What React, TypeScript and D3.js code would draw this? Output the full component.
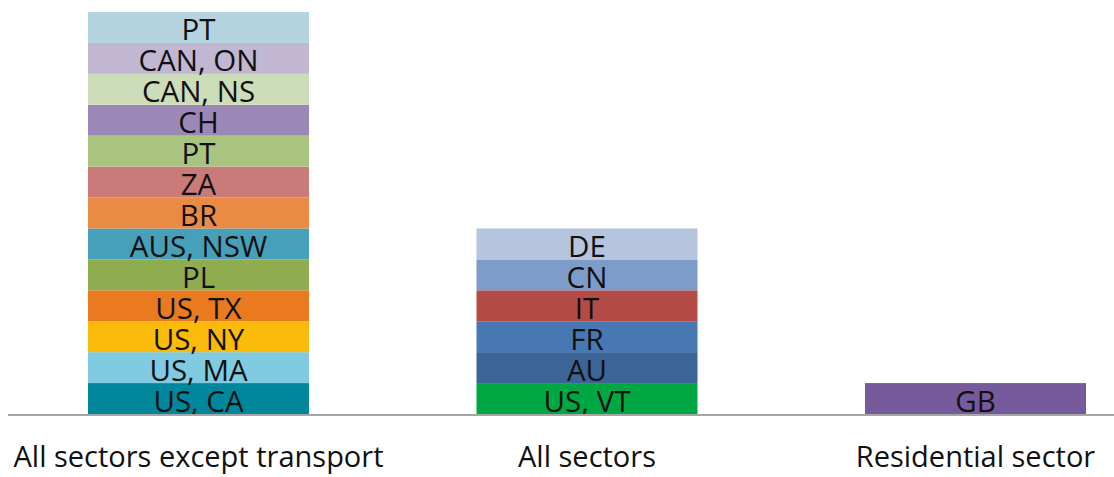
import React from "react";
import * as d3 from "d3";

const categories = ["All sectors except transport", "All sectors", "Residential sector"];

const col1Labels = ["US, CA", "US, MA", "US, NY", "US, TX", "PL", "AUS, NSW", "BR", "ZA", "PT", "CH", "CAN, NS", "CAN, ON", "PT"];
const col1Colors = ["#00879b", "#80cbe1", "#fbbb0a", "#e97a1f", "#8fad4e", "#46a0ba", "#ea8b43", "#ca7b79", "#a9c47f", "#9b88b6", "#cddcb9", "#c2b7d3", "#b4d4df"];

const col2Labels = ["US, VT", "AU", "FR", "IT", "CN", "DE"];
const col2Colors = ["#00a844", "#3b6497", "#4878b3", "#b44b47", "#7e9cc9", "#b6c5de"];

const col3Labels = ["GB"];
const col3Colors = ["#765a9b"];

const columns = [
  { labels: col1Labels, colors: col1Colors },
  { labels: col2Labels, colors: col2Colors },
  { labels: col3Labels, colors: col3Colors },
];

const W = 1114;
const H = 477;

export default function App() {
  const x = d3.scaleBand<string>().domain(categories).range([88, 1086]).paddingInner(0.4311).paddingOuter(0);
  const y = d3.scaleLinear().domain([0, 13]).range([414, 12]);
  const font = "'Open Sans', 'Noto Sans', sans-serif";
  return (
    <svg width={W} height={H} style={{ position: "absolute", left: 0, top: 0, background: "#fff" }}>
      {categories.map((c, ci) => {
        const col = columns[ci];
        const x0 = x(c)!;
        return (
          <g key={c}>
            {col.labels.map((lab, i) => {
              const yTop = y(i + 1);
              const yBot = y(i);
              return (
                <g key={i}>
                  <rect x={x0} y={yTop} width={x.bandwidth()} height={yBot - yTop} fill={col.colors[i]} />
                  <text
                    x={x0 + x.bandwidth() / 2}
                    y={(yTop + yBot) / 2 + 1.5}
                    textAnchor="middle"
                    dominantBaseline="central"
                    fontFamily={font}
                    fontSize={29.5}
                    fill="#111"
                  >
                    {lab}
                  </text>
                </g>
              );
            })}
            <text
              x={x0 + x.bandwidth() / 2}
              y={467}
              textAnchor="middle"
              fontFamily={font}
              fontSize={29}
              fill="#111"
            >
              {c}
            </text>
          </g>
        );
      })}
      <line x1={8} x2={W} y1={415} y2={415} stroke="#a6a6a6" strokeWidth={2} />
    </svg>
  );
}
